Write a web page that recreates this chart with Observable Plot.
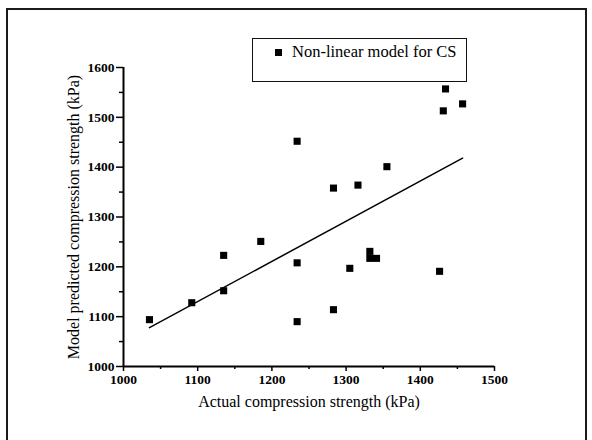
<!DOCTYPE html>
<html>
<head>
<meta charset="utf-8">
<script src="https://cdn.jsdelivr.net/npm/d3@7"></script>
<script src="https://cdn.jsdelivr.net/npm/@observablehq/plot@0.6"></script>
<style>
  html, body { margin: 0; padding: 0; background: #fff; }
  #wrap { position: relative; width: 592px; height: 440px; overflow: hidden; }
  #frame { position: absolute; left: 6px; top: 8px; width: 577px; height: 440px;
           border-top: 2px solid #1a1a1a; border-left: 2px solid #1a1a1a; border-right: 2px solid #1a1a1a; }
  #legend { position: absolute; left: 252px; top: 38px; width: 213px; height: 42px;
            border: 1.5px solid #111; background: #fff; font-family: "Liberation Serif", serif; }
  #legend .sw { position: absolute; left: 22px; top: 10px; width: 7px; height: 7px; background: #000; }
  #legend .lb { position: absolute; left: 39px; top: 3px; font-size: 16.5px; color: #000; white-space: nowrap; }
  svg { position: absolute; left: 0; top: 0; }
</style>
</head>
<body>
<div id="wrap">
  <div id="frame"></div>
</div>
<script>
// Data
const actual = [1035, 1092, 1135, 1135, 1185, 1234, 1234, 1234, 1283, 1283, 1305, 1316, 1332, 1332, 1341, 1355, 1426, 1431, 1434, 1457];
const predicted = [1094, 1128, 1223, 1152, 1251, 1452, 1208, 1090, 1358, 1114, 1197, 1364, 1231, 1217, 1217, 1401, 1191, 1513, 1557, 1527];
const fitX = [1035, 1457];
const fitY = [1078, 1418];
const xTicks = [1000, 1100, 1200, 1300, 1400, 1500];
const xMinor = [1050, 1150, 1250, 1350, 1450];
const yTicks = [1000, 1100, 1200, 1300, 1400, 1500, 1600];
const yMinor = [1050, 1150, 1250, 1350, 1450, 1550];
const xTitle = "Actual compression strength (kPa)";
const yTitle = "Model predicted compression strength (kPa)";
const seriesName = "Non-linear model for CS";

const points = actual.map((a, i) => ({x: a, y: predicted[i]}));
const fit = fitX.map((a, i) => ({x: a, y: fitY[i]}));

const chart = Plot.plot({
  width: 592,
  height: 440,
  marginLeft: 123,
  marginRight: 98,
  marginTop: 67,
  marginBottom: 74,
  style: {fontFamily: "Liberation Serif, serif", fontSize: "13px", color: "#000", background: "transparent"},
  x: {domain: [1000, 1500]},
  y: {domain: [1000, 1600]},
  marks: [
    Plot.axisX({ticks: xTicks, tickSize: 5, tickPadding: 3, tickFormat: d => String(d), fontWeight: "bold", fontSize: 13.5, strokeWidth: 1.5, label: null}),
    Plot.axisX({ticks: xMinor, tickSize: 3, tickFormat: null, text: null, strokeWidth: 1.5, label: null}),
    Plot.axisY({ticks: yTicks, tickSize: 7, tickPadding: 2, tickFormat: d => String(d), fontWeight: "bold", fontSize: 13.5, strokeWidth: 1.5, label: null}),
    Plot.axisY({ticks: yMinor, tickSize: 4, tickFormat: null, text: null, strokeWidth: 1.5, label: null}),
    Plot.ruleY([1000], {stroke: "#000", strokeWidth: 2}),
    Plot.ruleX([1000], {stroke: "#000", strokeWidth: 2}),
    Plot.line(fit, {x: "x", y: "y", stroke: "#000", strokeWidth: 1.5}),
    Plot.dot(points, {x: "x", y: "y", symbol: "square", r: 4, fill: "#000", stroke: "none"}),
    Plot.text([xTitle], {frameAnchor: "bottom", dy: 40, fontSize: 16, fill: "#000", textAnchor: "middle"}),
    Plot.text([yTitle], {frameAnchor: "left", dx: -50, rotate: -90, fontSize: 16, fill: "#000", textAnchor: "middle"})
  ]
});
const wrap = document.getElementById("wrap");
wrap.appendChild(chart);
const legend = document.createElement("div");
legend.id = "legend";
legend.innerHTML = '<div class="sw"></div><div class="lb"></div>';
legend.querySelector(".lb").textContent = seriesName;
wrap.appendChild(legend);
</script>
</body>
</html>
